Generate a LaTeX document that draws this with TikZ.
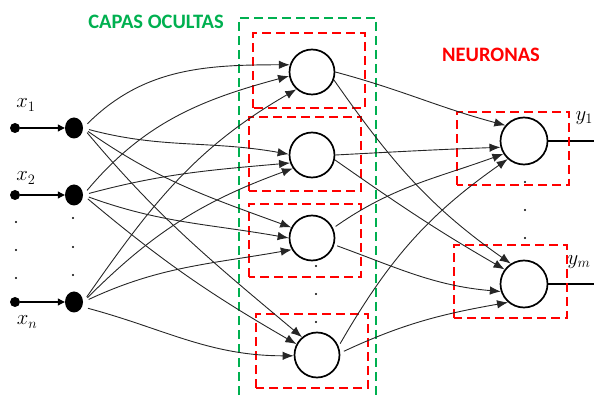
\documentclass[tikz,border=0pt]{standalone}
\usepackage{fontspec}
\setmainfont{Carlito}
\usetikzlibrary{arrows.meta,shapes.geometric}

\definecolor{verdecapa}{RGB}{0,176,80}
\definecolor{rojocaja}{RGB}{255,0,0}

\begin{document}
\begin{tikzpicture}[x=1pt,y=1pt,
    neurona/.style={circle,draw,line width=1.7pt,minimum size=45pt,inner sep=0pt},
    entrada/.style={ellipse,fill=black,minimum width=18pt,minimum height=21pt,inner sep=0pt},
    punto/.style={circle,fill=black,minimum size=10pt,inner sep=0pt},
    caja/.style={draw=rojocaja,line width=2pt,dash pattern=on 9pt off 5pt},
    flecha/.style={-{Latex[length=11pt,width=8.5pt]},draw=black!85,line width=0.9pt},
    flechain/.style={-{Triangle[length=7pt,width=7pt]},line width=1.1pt},
    etiqueta/.style={font=\fontsize{20}{22}\selectfont},
    titulo/.style={font=\bfseries\fontsize{20.5}{24}\selectfont}]
    \useasboundingbox (0,0) rectangle (594,399);
    \clip (0,0) rectangle (594,399);
    % Inputs
    \node[punto] (d1) at (15,271) {};
    \node[punto] (d2) at (15,204) {};
    \node[punto] (d3) at (15,97) {};
    \node[entrada] (x1) at (74,271) {};
    \node[entrada] (x2) at (74,204) {};
    \node[entrada] (x3) at (74,97) {};
    \draw[flechain] (d1) -- (x1);
    \draw[flechain] (d2) -- (x2);
    \draw[flechain] (d3) -- (x3);
    \node[etiqueta] (lx1) at (26,294) {$x_1$};
    \node[etiqueta] (lx2) at (26,221) {$x_2$};
    \node[etiqueta] (lx3) at (27,77) {$x_n$};
    \foreach \yy in {177,149,121} \fill (16,\yy) circle (1.2);
    \foreach \yy in {181,152,124} \fill (73,\yy) circle (1.2);
    % Hidden layer
    \node[neurona] (h1) at (312,327) {};
    \node[neurona] (h2) at (312,244) {};
    \node[neurona] (h3) at (312,161) {};
    \node[neurona] (h4) at (317,44) {};
    \foreach \yy in {133,105,77} \fill (316,\yy) circle (1.2);
    % Output layer
    \node[neurona,minimum size=47pt] (o1) at (524,258) {};
    \node[neurona,minimum size=47pt] (o2) at (524,115) {};
    \foreach \yy in {217,189,161} \fill (525,\yy) circle (1.2);
    \coordinate (y1e) at (602,258);
    \coordinate (y2e) at (602,115);
    \draw[flechain] (o1) -- (y1e);
    \draw[flechain] (o2) -- (y2e);
    \node[etiqueta,anchor=west] (ly1) at (572,281) {$y_1$};
    \node[etiqueta,anchor=east] (ly2) at (594,137) {$y_m$};
    % Dashed boxes
    \draw[caja] (253,291) rectangle (365,366);
    \draw[caja] (249,208) rectangle (361,282);
    \draw[caja] (249,122) rectangle (361,195);
    \draw[caja] (256,11) rectangle (368,85);
    \draw[caja] (457,214) rectangle (569,287);
    \draw[caja] (454,81) rectangle (567,154);
    \draw[caja,draw=verdecapa] (239,-10) rectangle (376,381);
    \node[titulo,text=verdecapa] (capas) at (156,377) {CAPAS OCULTAS};
    \node[titulo,text=rojocaja] (neur) at (491,344) {NEURONAS};
    % Inputs to hidden layer
    \draw[flecha,shorten <=6pt] (x1.east) to[out=45,in=180] (h1.162);
    \draw[flecha,shorten <=6pt] (x1.east) to[out=-15,in=170] (h2.178);
    \draw[flecha,shorten <=6pt] (x1.east) to[out=-35,in=160] (h3.153);
    \draw[flecha,shorten <=6pt] (x1.east) to[out=-50,in=140] (h4.130);
    \draw[flecha,shorten <=6pt] (x2.east) to[out=50,in=195] (h1.190);
    \draw[flecha,shorten <=6pt] (x2.east) to[out=15,in=185] (h2.200);
    \draw[flecha,shorten <=6pt] (x2.east) to[out=-20,in=170] (h3.180);
    \draw[flecha,shorten <=6pt] (x2.east) to[out=-40,in=150] (h4.152);
    \draw[flecha,shorten <=6pt] (x3.east) to[out=55,in=210] (h1.228);
    \draw[flecha,shorten <=6pt] (x3.east) to[out=45,in=200] (h2.215);
    \draw[flecha,shorten <=6pt] (x3.east) to[out=25,in=190] (h3.210);
    \draw[flecha,shorten <=6pt] (x3.-30) to[out=-15,in=180] (h4.182);
    % Hidden layer to outputs
    \draw[flecha] (h1.0) to[out=-15,in=165] (o1.140);
    \draw[flecha] (h1.-20) to[out=-55,in=145] (o2.123);
    \draw[flecha] (h2.0) to[out=3,in=182] (o1.195);
    \draw[flecha] (h2.-12) to[out=-35,in=150] (o2.143);
    \draw[flecha,shorten <=3pt] (h3.25) to[out=35,in=200] (o1.212);
    \draw[flecha,shorten <=3pt] (h3.-17) to[out=-20,in=175] (o2.198);
    \draw[flecha,shorten <=3pt] (h4.22) to[out=60,in=215] (o1.228);
    \draw[flecha,shorten <=4pt] (h4.5) to[out=25,in=190] (o2.229);
\end{tikzpicture}
\end{document}
